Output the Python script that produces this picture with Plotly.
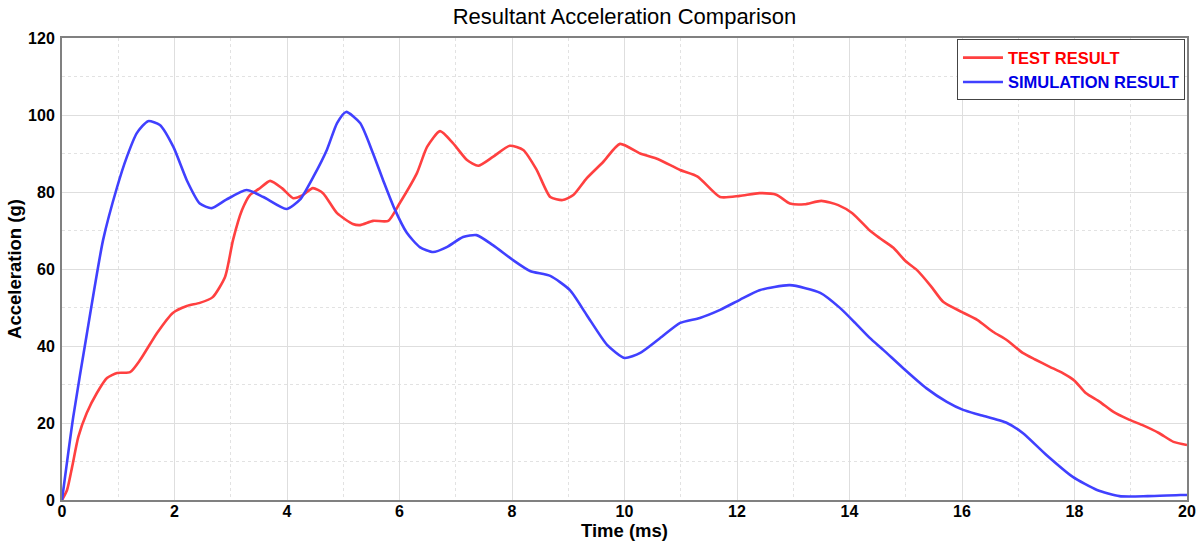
import plotly.graph_objects as go

# Time (ms) and acceleration (g)
t_test = [0, 0.09, 0.18, 0.29, 0.44, 0.62, 0.8, 0.98, 1.21, 1.39, 1.69, 1.97, 2.22, 2.45, 2.68,
          2.9, 3.04, 3.2, 3.34, 3.5, 3.7, 3.91, 4.11, 4.28, 4.46, 4.64, 4.89, 5.17, 5.3, 5.53,
          5.8, 6.0, 6.31, 6.49, 6.72, 6.95, 7.2, 7.4, 7.66, 7.96, 8.2, 8.44, 8.68, 8.9, 9.09,
          9.33, 9.62, 9.92, 10.28, 10.6, 10.99, 11.3, 11.7, 12.05, 12.4, 12.7, 12.94, 13.2, 13.5,
          13.8, 14.05, 14.36, 14.54, 14.78, 15.0, 15.2, 15.45, 15.67, 16.0, 16.27, 16.55, 16.8,
          17.08, 17.3, 17.56, 17.8, 18.0, 18.2, 18.45, 18.7, 18.95, 19.2, 19.5, 19.76, 20.0]
a_test = [0, 2.6, 8.6, 16.4, 22.6, 27.8, 31.7, 33, 33.2, 36.4, 43.4, 48.6, 50.4, 51.2, 52.7,
          58, 67.5, 75.3, 79.2, 80.8, 82.9, 81, 78.4, 79.2, 81, 79.7, 74.5, 71.7, 71.4, 72.5,
          72.5, 77, 84.9, 91.7, 95.8, 92.7, 88.3, 86.8, 89.1, 92, 90.9, 85.7, 78.7, 77.9, 79.2,
          83.6, 87.8, 92.5, 90, 88.5, 85.7, 84, 78.7, 79, 79.7, 79.3, 77, 76.8, 77.7,
          76.6, 74.5, 70, 68, 65.5, 62, 59.7, 55.5, 51.4, 48.8, 46.8, 43.7, 41.5,
          38.2, 36.5, 34.6, 32.9, 31, 27.8, 25.5, 22.8, 21, 19.5, 17.4, 15.1, 14.3]

t_sim = [0, 0.2, 0.44, 0.73, 0.98, 1.15, 1.33, 1.53, 1.74, 1.98, 2.22, 2.45, 2.66, 2.92, 3.28,
         3.58, 3.99, 4.23, 4.47, 4.71, 4.89, 5.05, 5.3, 5.53, 5.71, 5.9, 6.13, 6.36, 6.6, 6.84,
         7.13, 7.37, 7.66, 8.02, 8.32, 8.68, 9.03, 9.33, 9.69, 10.0, 10.28, 10.63, 10.99, 11.34,
         11.7, 12.05, 12.4, 12.94, 13.48, 13.83, 14.1, 14.36, 14.6, 14.95, 15.37, 15.73, 16.02,
         16.32, 16.8, 17.08, 17.5, 17.97, 18.4, 18.8, 19.3, 19.88, 20.0]
a_sim = [0, 21.6, 43, 67.5, 81.3, 89, 95.3, 98.4, 97.4, 91.7, 83, 77, 75.8, 78, 80.5,
         78.7, 75.6, 78, 84, 91, 97.9, 100.8, 97.9, 90, 83, 76, 69.4, 65.7, 64.4, 65.7,
         68.3, 68.8, 66.2, 62.3, 59.5, 58.2, 54.5, 48, 40.3, 36.9, 38.2, 42, 46, 47.3,
         49.4, 52, 54.5, 55.8, 53.8, 49.9, 46, 42.1, 39, 34.3, 29, 25.5, 23.4,
         22.1, 20, 17.4, 11.7, 6, 2.6, 1, 1, 1.3, 1.3]

series_names = ["TEST RESULT", "SIMULATION RESULT"]
x_ticks = list(range(0, 21, 2))
y_ticks = list(range(0, 121, 20))

assert len(t_test) == len(a_test)
assert len(t_sim) == len(a_sim)

FONT = "Liberation Sans, Arial, sans-serif"
RED = "rgb(255,64,64)"
BLUE = "rgb(64,64,255)"
LEGEND_TEXT = ["rgb(255,0,0)", "rgb(0,0,230)"]

fig = go.Figure()
for (tx, ay, name, col, tcol) in [(t_test, a_test, series_names[0], RED, LEGEND_TEXT[0]),
                                  (t_sim, a_sim, series_names[1], BLUE, LEGEND_TEXT[1])]:
    fig.add_trace(go.Scatter(
        x=tx, y=ay, mode="lines",
        name="<b><span style='color:%s'>%s</span></b>" % (tcol, name),
        line=dict(color=col, width=2.6, shape="spline", smoothing=0.6)))

fig.update_layout(
    width=1201, height=543,
    margin=dict(l=62, r=14, t=38, b=43, autoexpand=False),
    paper_bgcolor="white", plot_bgcolor="white",
    font=dict(family=FONT, color="black"),
    title=dict(text="Resultant Acceleration Comparison", x=0.5, xref="paper",
               y=0.9705, yref="container", yanchor="middle",
               font=dict(family=FONT, size=22, color="black")),
    legend=dict(x=0.9982, y=0.997, xanchor="right", yanchor="top",
                bgcolor="white", bordercolor="#444444", borderwidth=1,
                font=dict(family=FONT, size=16.5), tracegroupgap=0, itemwidth=40),
    showlegend=True,
)

fig.update_xaxes(
    range=[0, 20], tickvals=x_ticks, ticktext=[str(v) for v in x_ticks],
    title=dict(text="<b>Time (ms)</b>", font=dict(family=FONT, size=18.5), standoff=0),
    tickfont=dict(family=FONT, size=16, weight="bold"),
    showline=True, linecolor="#808080", linewidth=2, mirror=True,
    showgrid=True, gridcolor="#dedede", gridwidth=1,
    minor=dict(dtick=1, showgrid=True, gridcolor="#e2e2e2", griddash="dot", gridwidth=1),
    zeroline=False, ticks="", ticklabelstandoff=-4,
)
fig.update_yaxes(
    range=[0, 120], tickvals=y_ticks, ticktext=[str(v) for v in y_ticks],
    title=dict(text="<b>Acceleration (g)</b>", font=dict(family=FONT, size=18.5), standoff=2),
    tickfont=dict(family=FONT, size=16, weight="bold"),
    showline=True, linecolor="#808080", linewidth=2, mirror=True,
    showgrid=True, gridcolor="#dedede", gridwidth=1,
    minor=dict(dtick=10, showgrid=True, gridcolor="#e2e2e2", griddash="dot", gridwidth=1),
    zeroline=False, ticks="", ticklabelstandoff=2,
)

fig.write_html("out.html")
